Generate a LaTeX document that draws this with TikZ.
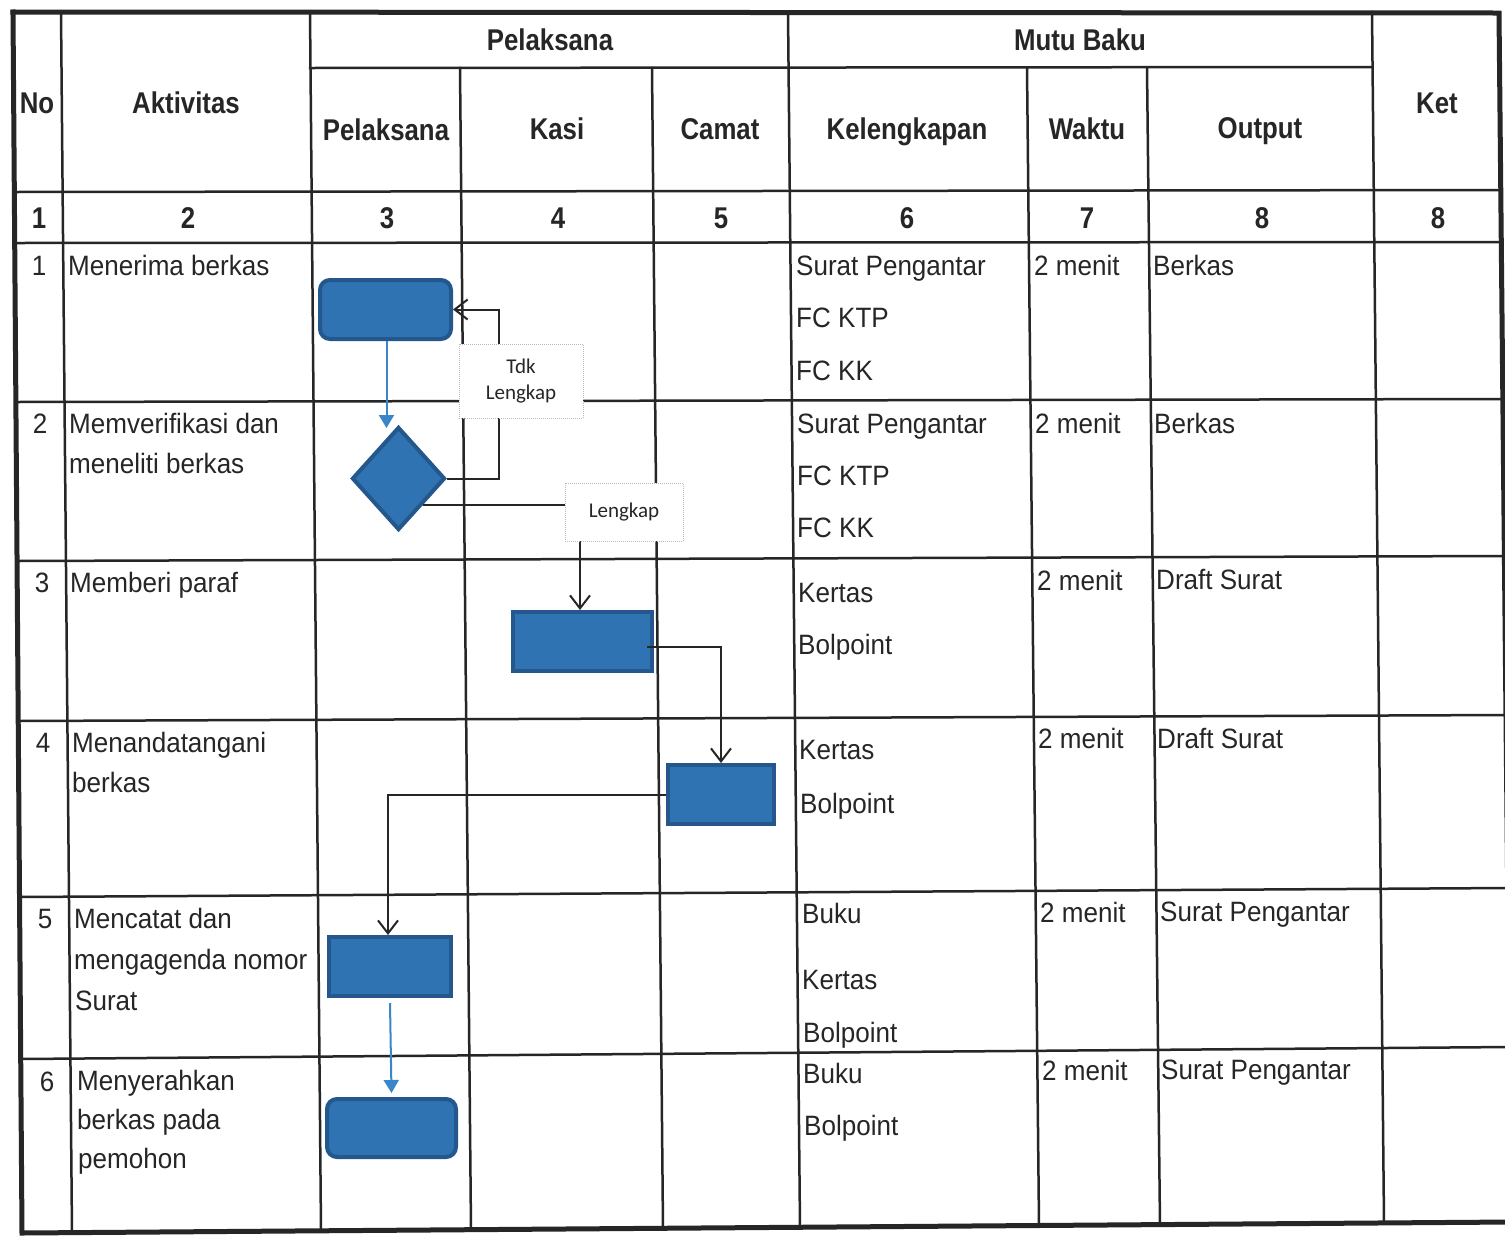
\documentclass[tikz,border=0pt]{standalone}
\usepackage{fontspec}
\setmainfont{Liberation Sans}[FakeStretch=0.93]
\newfontfamily\hdfont{Liberation Sans}[FakeStretch=0.86]
\newfontfamily\lblfont{Carlito}
\usetikzlibrary{shapes.geometric,arrows.meta}
\definecolor{ink}{HTML}{262626}
\definecolor{boxfill}{HTML}{2F73B3}
\definecolor{boxedge}{HTML}{24578C}
\definecolor{arrowblue}{HTML}{3A86C8}
\definecolor{lblgray}{HTML}{BBBBBB}
\definecolor{lbltext}{HTML}{262626}
\tikzset{
  tb/.style={draw=ink, line width=2.5pt, line cap=rect},
  frame/.style={draw=ink, line width=5pt, line cap=rect},
  txt/.style={anchor=base west, inner sep=0pt, text=ink, font=\fontsize{28}{34}\selectfont},
  ctxt/.style={anchor=base, inner sep=0pt, text=ink, font=\fontsize{28}{34}\selectfont},
  hd/.style={anchor=base, inner sep=0pt, text=ink, font=\hdfont\bfseries\fontsize{30}{36}\selectfont},
  proc/.style={draw=boxedge, fill=boxfill, line width=4pt, inner sep=0pt},
  lbl/.style={draw=lblgray, densely dotted, line width=1pt, fill=white, inner sep=0pt,
              align=center, text=lbltext, font=\lblfont\fontsize{21}{26}\selectfont},
  blk/.style={draw=ink, line width=2pt, -{Straight Barb[length=13pt,width=20pt,line width=2pt]}},
  blu/.style={draw=arrowblue, line width=2pt, -{Triangle[length=13pt,width=15pt]}},
}
\begin{document}
\begin{tikzpicture}[x=1pt,y=-1pt]
\useasboundingbox (0,0) rectangle (1505,1235);
\fill[white] (0,0) rectangle (1505,1235);

% ---- table grid ----
\draw[tb] (310,68) -- (1372,67);
\draw[tb] (14.4,192) -- (1501,190);
\draw[tb] (14.8,243) -- (1501,242);
\draw[tb] (15.9,402) -- (1503,399);
\draw[tb] (17.1,561) -- (1504,556);
\draw[tb] (18.3,721) -- (1510,715);
\draw[tb] (19.5,897) -- (1510,888);
\draw[tb] (20.7,1059) -- (1510,1047);

\draw[tb] (61,12) -- (72,1233);
\draw[tb] (310,12) -- (321,1231);
\draw[tb] (460,68) -- (471,1230);
\draw[tb] (652,68) -- (663,1228);
\draw[tb] (788,12) -- (800,1227);
\draw[tb] (1027,68) -- (1039,1225);
\draw[tb] (1147,68) -- (1160,1225);
\draw[tb] (1372,12) -- (1384,1223);

\draw[frame] (13,12) -- (1499,13) -- (1511,1222);
\draw[frame] (13,12) -- (22,1233) -- (1511,1222);

% ---- headers ----
\node[hd] (hNo)  at (37,113)   {No};
\node[hd] (hAkt) at (186,113)  {Aktivitas};
\node[hd] (hPel) at (550,50)   {Pelaksana};
\node[hd] (hMutu) at (1080,50) {Mutu Baku};
\node[hd] (hKet) at (1437,113) {Ket};
\node[hd] (sPel) at (386,140)  {Pelaksana};
\node[hd] (sKas) at (557,139)  {Kasi};
\node[hd] (sCam) at (720,139)  {Camat};
\node[hd] (sKel) at (907,139)  {Kelengkapan};
\node[hd] (sWak) at (1087,139) {Waktu};
\node[hd] (sOut) at (1260,138) {Output};

\node[hd] (c1) at (39,228)   {1};
\node[hd] (c2) at (188,228)  {2};
\node[hd] (c3) at (387,228)  {3};
\node[hd] (c4) at (558,228)  {4};
\node[hd] (c5) at (721,228)  {5};
\node[hd] (c6) at (907,228)  {6};
\node[hd] (c7) at (1087,228) {7};
\node[hd] (c8) at (1262,228) {8};
\node[hd] (c9) at (1438,228) {8};

% ---- row 1 ----
\node[ctxt] (n1) at (39,275) {1};
\node[txt] (a1) at (68,275) {Menerima berkas};
\node[txt] (k1a) at (796,275) {Surat Pengantar};
\node[txt] (k1b) at (796,327) {FC KTP};
\node[txt] (k1c) at (796,380) {FC KK};
\node[txt] (w1) at (1034,275) {2 menit};
\node[txt] (o1) at (1153,275) {Berkas};
% ---- row 2 ----
\node[ctxt] (n2) at (40,433) {2};
\node[txt] (a2a) at (69,433) {Memverifikasi dan};
\node[txt] (a2b) at (69,473) {meneliti berkas};
\node[txt] (k2a) at (797,433) {Surat Pengantar};
\node[txt] (k2b) at (797,485) {FC KTP};
\node[txt] (k2c) at (797,537) {FC KK};
\node[txt] (w2) at (1035,433) {2 menit};
\node[txt] (o2) at (1154,433) {Berkas};
% ---- row 3 ----
\node[ctxt] (n3) at (42,592) {3};
\node[txt] (a3) at (70,592) {Memberi paraf};
\node[txt] (k3a) at (798,602) {Kertas};
\node[txt] (k3b) at (798,654) {Bolpoint};
\node[txt] (w3) at (1037,590) {2 menit};
\node[txt] (o3) at (1156,589) {Draft Surat};
% ---- row 4 ----
\node[ctxt] (n4) at (43,752) {4};
\node[txt] (a4a) at (72,752) {Menandatangani};
\node[txt] (a4b) at (72,792) {berkas};
\node[txt] (k4a) at (799,759) {Kertas};
\node[txt] (k4b) at (800,813) {Bolpoint};
\node[txt] (w4) at (1038,748) {2 menit};
\node[txt] (o4) at (1157,748) {Draft Surat};
% ---- row 5 ----
\node[ctxt] (n5) at (45,928) {5};
\node[txt] (a5a) at (74,928) {Mencatat dan};
\node[txt] (a5b) at (74,969) {mengagenda nomor};
\node[txt] (a5c) at (75,1010) {Surat};
\node[txt] (k5a) at (802,923) {Buku};
\node[txt] (k5b) at (802,989) {Kertas};
\node[txt] (k5c) at (803,1042) {Bolpoint};
\node[txt] (w5) at (1040,922) {2 menit};
\node[txt] (o5) at (1160,921) {Surat Pengantar};
% ---- row 6 ----
\node[ctxt] (n6) at (47,1091) {6};
\node[txt] (a6a) at (77,1090) {Menyerahkan};
\node[txt] (a6b) at (77,1129) {berkas pada};
\node[txt] (a6c) at (78,1168) {pemohon};
\node[txt] (k6a) at (803,1083) {Buku};
\node[txt] (k6b) at (804,1135) {Bolpoint};
\node[txt] (w6) at (1042,1080) {2 menit};
\node[txt] (o6) at (1161,1079) {Surat Pengantar};

% ---- flow shapes ----
\node[proc, rounded corners=10pt, minimum width=131pt, minimum height=59pt] (b1) at (385.5,309.5) {};
\node[proc, diamond, minimum width=93pt, minimum height=103pt] (d2) at (398.5,478.5) {};
\node[proc, minimum width=139pt, minimum height=59pt] (b3) at (582.5,641.5) {};
\node[proc, minimum width=106pt, minimum height=59pt] (b4) at (721,794.5) {};
\node[proc, minimum width=122pt, minimum height=59pt] (b5) at (390,966.5) {};
\node[proc, rounded corners=10pt, minimum width=129pt, minimum height=58pt] (b6) at (391.5,1128) {};

% ---- connectors ----
\coordinate (loopx) at (499,0);
\draw[blu] ([xshift=1pt]b1.south) -- ([xshift=1pt,yshift=-3pt]b1.south |- d2.north);
\draw[blk] (d2.east) -| (loopx |- b1.east) -- (b1.east);
\draw[blk] (d2.south east) -| ([xshift=-2.5pt]b3.north);
\draw[blk] ([xshift=-7pt,yshift=-5.5pt]b3.east) -| (b4.north);
\draw[blk] (b4.west) -| ([xshift=-2pt]b5.north);
\draw[blu] ([yshift=-5pt]b5.south) -- ([yshift=4pt]b6.north);

% ---- labels ----
\node[lbl, minimum width=124pt, minimum height=74pt] (tdk) at (521,381) {Tdk\\Lengkap};
\node[lbl, minimum width=118pt, minimum height=58pt] (lkp) at (624,512) {Lengkap};
\end{tikzpicture}
\end{document}
